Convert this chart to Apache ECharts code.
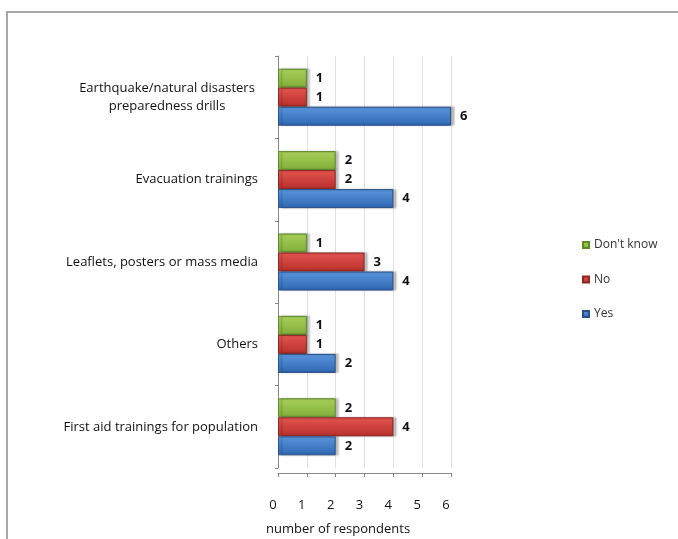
<!DOCTYPE html>
<html>
<head>
    <meta charset="utf-8">
    <title>number of respondents</title>
    <script src="https://cdn.jsdelivr.net/npm/echarts@6/dist/echarts.min.js"></script>
    <style>
        html, body { margin: 0; padding: 0; background: #fff; }
        #main { width: 678px; height: 539px; }
    </style>
</head>
<body>
<div id="main"></div>
<script type="text/javascript">
    // categories from bottom to top (category y axis runs upwards)
    var categories = [
        'First aid trainings for population',
        'Others',
        'Leaflets, posters or mass media',
        'Evacuation trainings',
        'Earthquake/natural disasters\npreparedness drills'
    ];
    var yesData = [2, 2, 4, 4, 6];
    var noData = [4, 1, 3, 2, 1];
    var dontKnowData = [2, 1, 1, 2, 1];
    var xTicks = [0, 1, 2, 3, 4, 5, 6];

    var myChart = echarts.init(document.getElementById('main'));

    function grad(top, bottom) {
        return new echarts.graphic.LinearGradient(0, 0, 0, 1, [
            {offset: 0, color: top},
            {offset: 1, color: bottom}
        ]);
    }

    var valueLabel = {
        show: true,
        position: 'right',
        distance: 9,
        color: '#111',
        fontSize: 13,
        fontWeight: 'bold',
        fontFamily: 'Open Sans'
    };

    function makeSeries(name, data, top, bottom, border) {
        return {
            name: name,
            type: 'bar',
            data: data,
            barWidth: 19,
            barGap: '0%',
            itemStyle: {
                color: grad(top, bottom),
                borderColor: border,
                borderWidth: 1,
                shadowColor: 'rgba(0,0,0,0.25)',
                shadowOffsetX: 3,
                shadowOffsetY: 0,
                shadowBlur: 2
            },
            label: valueLabel
        };
    }

    var option = {
        animation: false,
        textStyle: {fontFamily: 'Open Sans'},
        graphic: [{
            type: 'rect',
            shape: {x: 7, y: 12, width: 700, height: 600},
            style: {fill: 'none', stroke: '#a8a8a8', lineWidth: 2},
            silent: true
        }],
        legend: {
            orient: 'vertical',
            left: 577,
            top: 234,
            itemWidth: 6,
            itemHeight: 6,
            itemGap: 22.5,
            icon: 'rect',
            data: ["Don't know", 'No', 'Yes'],
            textStyle: {fontSize: 12, color: '#333', fontFamily: 'Open Sans'}
        },
        grid: {left: 278, right: 227, top: 56, bottom: 71},
        xAxis: {
            type: 'value',
            min: 0,
            max: 6,
            interval: 1,
            offset: 5,
            name: 'number of respondents',
            nameLocation: 'start',
            nameGap: 0,
            nameTextStyle: {
                align: 'left',
                verticalAlign: 'top',
                padding: [50, 0, 0, -12],
                fontSize: 13,
                color: '#111'
            },
            axisLine: {show: true, lineStyle: {color: '#888'}},
            axisTick: {show: true, length: 4, lineStyle: {color: '#888'}},
            axisLabel: {
                margin: 26,
                fontSize: 13,
                color: '#111',
                padding: [0, 10, 0, 0],
                formatter: function (v) { return xTicks.indexOf(v) >= 0 ? String(v) : ''; }
            },
            splitLine: {show: true, lineStyle: {color: '#e2e2e2'}}
        },
        yAxis: {
            type: 'category',
            data: categories,
            offset: 6,
            axisLine: {show: true, lineStyle: {color: '#888'}},
            axisTick: {show: true, length: 3, lineStyle: {color: '#888'}},
            axisLabel: {
                margin: 14,
                fontSize: 13,
                color: '#111',
                lineHeight: 18,
                formatter: function (v) {
                    if (v.indexOf('\n') < 0) return v;
                    return v.split('\n').map(function (s) { return '{c|' + s + '}'; }).join('\n');
                },
                rich: {
                    c: {width: 182, align: 'center', fontSize: 13, color: '#111', lineHeight: 18}
                }
            }
        },
        // first series is drawn at the top of each group
        series: [
            makeSeries("Don't know", dontKnowData, '#a9d05a', '#7fae38', '#5f8a28'),
            makeSeries('No', noData, '#e4544e', '#b8302c', '#8e2622'),
            makeSeries('Yes', yesData, '#5a95dc', '#2f68b3', '#28508a')
        ]
    };

    myChart.setOption(option);
</script>
</body>
</html>
